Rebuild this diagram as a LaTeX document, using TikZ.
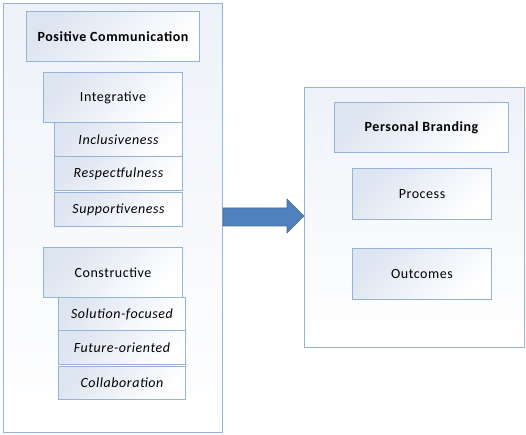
\documentclass[tikz,border=0pt]{standalone}
\usepackage{fontspec}
\setmainfont{Carlito}[LetterSpace=4]
\usepackage{xcolor}
\usepackage{tikz}
\definecolor{frameblue}{HTML}{95B3D7}
\definecolor{tintblue}{HTML}{DDE5F1}
\definecolor{paletint}{HTML}{EEF2F8}
\definecolor{arrowblue}{HTML}{4F81BD}
\definecolor{arrowedge}{HTML}{41709F}
\tikzset{
    cbox/.style={draw=frameblue,line width=1pt,rectangle,anchor=north west,inner sep=0pt,
        top color=tintblue,bottom color=white,shading angle=45,font=\fontsize{14}{16}\selectfont},
    framebox/.style={cbox,top color=paletint},
    titlebox/.style={cbox,font=\fontsize{14}{16}\selectfont\bfseries},
    itembox/.style={cbox,font=\fontsize{14}{16}\selectfont\itshape},
    blockarrow/.style={fill=arrowblue,draw=arrowedge,line width=0.6pt}
}

\begin{document}
\begin{tikzpicture}[x=1pt,y=-1pt]
            \useasboundingbox (0,0) rectangle (526,435);
            % left side
            \node[framebox,minimum width=219pt,minimum height=429pt] (pcframe) at (3,3) {};
            \node[titlebox,minimum width=173pt,minimum height=50pt] (pc) at (26,11) {Positive Communication};
            \node[cbox,minimum width=139pt,minimum height=50pt] (integ) at (43,72) {Integrative};
            \node[itembox,minimum width=128pt,minimum height=34pt] (incl) at (54,122) {Inclusiveness};
            \node[itembox,minimum width=128pt,minimum height=34pt] (resp) at (54,156) {Respectfulness};
            \node[itembox,minimum width=128pt,minimum height=34pt] (supp) at (54,192) {Supportiveness};
            \node[cbox,minimum width=139pt,minimum height=50pt] (constr) at (43,247) {Constructive};
            \node[itembox,minimum width=127pt,minimum height=33pt] (solu) at (58,297) {Solution-focused};
            \node[itembox,minimum width=127pt,minimum height=34pt] (futu) at (58,330) {Future-oriented};
            \node[itembox,minimum width=127pt,minimum height=33pt] (coll) at (58,366) {Collaboration};

            % right side
            \node[framebox,minimum width=220pt,minimum height=260pt] (pbframe) at (304,87) {};
            \node[titlebox,minimum width=174pt,minimum height=50pt] (pb) at (334,102) {Personal Branding};
            \node[cbox,minimum width=139pt,minimum height=51pt] (proc) at (352,168) {Process};
            \node[cbox,minimum width=139pt,minimum height=51pt] (outc) at (352,248) {Outcomes};

            %%%%%%%%%%%%%%%%
            \filldraw[blockarrow] (pcframe.east |- 0,208) -- (287,208) -- (287,199)
                -- (pbframe.west |- 0,216) -- (287,233) -- (287,226) -- (pcframe.east |- 0,226) -- cycle;
        \end{tikzpicture}
\end{document}
